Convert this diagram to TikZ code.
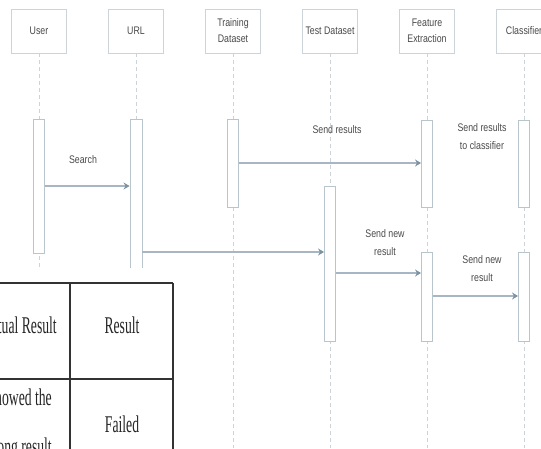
\documentclass[tikz,border=0pt]{standalone}
\usepackage{fontspec}
\newfontfamily\dg[FakeStretch=0.8]{Liberation Sans}
\newfontfamily\tb[FakeStretch=0.57]{Liberation Serif}
\usetikzlibrary{arrows.meta}
\definecolor{ln}{HTML}{CDD4D9}
\definecolor{act}{HTML}{B9C5CD}
\definecolor{msgc}{HTML}{A7B6C2}
\definecolor{tip}{HTML}{7C93A4}
\definecolor{txt}{HTML}{4A4A4A}
\begin{document}
\begin{tikzpicture}[x=1pt,y=-1pt,
  head/.style={draw=ln, fill=white, line width=0.8pt, minimum width=55pt, minimum height=44pt, inner sep=0pt, font=\dg\fontsize{11}{16}\selectfont, text=txt, align=center},
  life/.style={draw=ln, dash pattern=on 4pt off 3pt, line width=0.8pt},
  actbox/.style={draw=act, fill=white, line width=0.9pt, minimum width=11pt, inner sep=0pt},
  msg/.style={draw=msgc, line width=1.8pt, -{Stealth[length=6pt,width=7pt,color=tip]}},
  lbl/.style={font=\dg\fontsize{11}{18}\selectfont, text=txt, align=center, inner sep=0pt},
  tline/.style={draw=black!80, line width=1.2pt},
  ttxt/.style={font=\tb\fontsize{24}{24}\selectfont, text=black!85, inner sep=0pt}]
\useasboundingbox (0,0) rectangle (541,448);
\clip (0,0) rectangle (541,448);

% header boxes
\node[head] (hU) at (39,31) {User};
\node[head] (hR) at (136,31) {URL};
\node[head] (hT) at (233,31) {Training\\Dataset};
\node[head] (hD) at (330,31) {Test Dataset};
\node[head] (hF) at (427,31) {Feature\\Extraction};
\node[head] (hC) at (524,31) {Classifier};

% lifeline ends
\coordinate (eU) at (39,448);
\coordinate (eR) at (136,448);
\coordinate (eT) at (233,448);
\coordinate (eD) at (330,448);
\coordinate (eF) at (427,448);
\coordinate (eC) at (524,448);
\foreach \h/\e in {hU/eU,hR/eR,hT/eT,hD/eD,hF/eF,hC/eC}
  \draw[life] (\h.south) -- (\e);

% activation boxes
\node[actbox, minimum height=134pt] (aU) at (39,186) {};
\node[actbox, minimum height=180pt, minimum width=12pt] (aR) at (136,209) {};
\node[actbox, minimum height=88pt] (aT) at (233,163) {};
\node[actbox, minimum height=155pt] (aD) at (330,263.5) {};
\node[actbox, minimum height=87pt] (aF1) at (427,163.5) {};
\node[actbox, minimum height=87pt] (aC1) at (524,163.5) {};
\node[actbox, minimum height=89pt] (aF2) at (427,296.5) {};
\node[actbox, minimum height=89pt] (aC2) at (524,296.5) {};

% message levels
\coordinate (m1) at (0,186);
\coordinate (m2) at (0,163);
\coordinate (m3) at (0,252);
\coordinate (m4) at (0,273);
\coordinate (m5) at (0,296);

\draw[msg] (aU.east |- m1) -- (aR.west |- m1);
\draw[msg] (aT.east |- m2) -- (aF1.west |- m2);
\draw[msg] (aR.east |- m3) -- (aD.west |- m3);
\draw[msg] (aD.east |- m4) -- (aF2.west |- m4);
\draw[msg] (aF2.east |- m5) -- (aC2.west |- m5);

% labels
\node[lbl] (l1) at (83,160) {Search};
\node[lbl] (l2) at (337,130) {Send results};
\node[lbl] (l3) at (482,137) {Send results\\to classifier};
\node[lbl] (l4) at (385,243) {Send new\\result};
\node[lbl] (l5) at (482,269) {Send new\\result};

% overlapping table fragment
\fill[white] (-5,268) rectangle (176,460);
\draw[tline] (-5,283) -- (173,283);
\draw[tline] (-5,379) -- (173,379);
\draw[tline] (70,283) -- (70,460);
\draw[tline] (173,283) -- (173,460);
\node[ttxt, anchor=base east] (t1) at (57,333) {Actual Result};
\node[ttxt, anchor=base] (t2) at (122,333) {Result};
\node[ttxt, anchor=base east] (t3) at (52,405) {showed the};
\node[ttxt, anchor=base] (t4) at (122,432) {Failed};
\node[ttxt, anchor=base east] (t5) at (52,454) {wrong result};
\end{tikzpicture}
\end{document}
